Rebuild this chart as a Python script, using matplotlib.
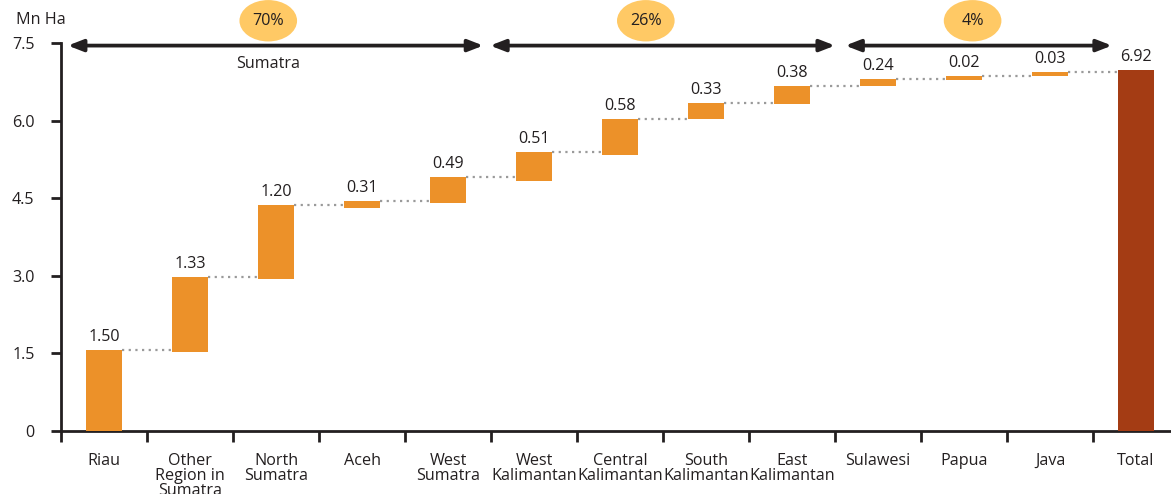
import matplotlib
matplotlib.use("Agg")
import matplotlib.pyplot as plt
from matplotlib.patches import Ellipse

plt.rcParams['font.family'] = ['Open Sans', 'DejaVu Sans']

categories = ["Riau", "Other\nRegion in\nSumatra", "North\nSumatra", "Aceh", "West\nSumatra",
              "West\nKalimantan", "Central\nKalimantan", "South\nKalimantan", "East\nKalimantan",
              "Sulawesi", "Papua", "Java", "Total"]
value_labels = [1.50, 1.33, 1.20, 0.31, 0.49, 0.51, 0.58, 0.33, 0.38, 0.24, 0.02, 0.03, 6.92]
bar_bottom = [0.00, 1.53, 2.94, 4.32, 4.41, 4.84, 5.34, 6.04, 6.33, 6.66, 6.79, 6.87, 0.00]
bar_top = [1.56, 2.97, 4.37, 4.45, 4.91, 5.39, 6.03, 6.34, 6.67, 6.80, 6.86, 6.94, 6.98]
y_ticks = [0, 1.5, 3.0, 4.5, 6.0, 7.5]
y_tick_labels = ["0", "1.5", "3.0", "4.5", "6.0", "7.5"]
group_names = ["Sumatra", "", ""]
group_shares = ["70%", "26%", "4%"]
group_arrow_start = [-0.42, 4.49, 8.62]
group_arrow_end = [4.41, 8.50, 11.72]
group_share_x = [1.91, 6.30, 10.10]

ORANGE = "#EC9129"
RUST = "#A43C14"
TXT = "#231F20"
GREY = "#9A9A9A"
FS = 11.6

fig = plt.figure(figsize=(11.71, 4.94), dpi=100)
W, H = 1171, 494
x0, x1 = 61, 61 + 86 * 13
ax = fig.add_axes([x0 / W, 1 - 431 / H, (x1 - x0) / W, (431 - 43) / H])
ax.set_xlim(-0.5, len(categories) - 0.5)
ax.set_ylim(0, 7.5)

xs = list(range(len(categories)))
heights = [t - b for t, b in zip(bar_top, bar_bottom)]
colors = [ORANGE] * (len(categories) - 1) + [RUST]
bw = 0.43
ax.bar(xs, heights, bottom=bar_bottom, width=bw, color=colors, zorder=3)

for i in xs:
    ax.text(i, bar_top[i] + 0.1, f"{value_labels[i]:.2f}", ha="center", va="bottom",
            fontsize=FS, color=TXT)
for i in range(len(categories) - 1):
    ax.plot([i + bw / 2, i + 1 - bw / 2], [bar_top[i], bar_top[i]], color=GREY,
            lw=1.6, linestyle=(0, (1, 2.0)), zorder=2)

for s in ["top", "right"]:
    ax.spines[s].set_visible(False)
for s in ["left", "bottom"]:
    ax.spines[s].set_linewidth(2.0)
    ax.spines[s].set_color(TXT)

ax.set_yticks(y_ticks)
ax.set_yticklabels(y_tick_labels)
ax.tick_params(axis="y", length=7, width=2, color=TXT, pad=12, labelsize=FS, labelcolor=TXT)
ax.set_xticks([i + 0.5 for i in range(-1, len(categories) - 1)])
ax.set_xticklabels([])
ax.set_xticks(xs, minor=True)
ax.set_xticklabels(categories, minor=True, fontsize=FS, color=TXT, linespacing=0.92, va="top")
ax.tick_params(axis="x", which="major", length=8, width=2, color=TXT, direction="out")
ax.tick_params(axis="x", which="minor", length=0, pad=16)

fig.text(16 / W, 1 - 20 / H, "Mn Ha", fontsize=FS, color=TXT, ha="left", va="center")

for name, share, xa, xb, xc in zip(group_names, group_shares, group_arrow_start,
                                   group_arrow_end, group_share_x):
    ax.annotate("", xy=(xb, 7.45), xytext=(xa, 7.45), xycoords="data",
                arrowprops=dict(arrowstyle="<|-|>,head_length=0.9,head_width=0.35",
                                color=TXT, lw=2.7, shrinkA=0, shrinkB=0), annotation_clip=False)
    e = Ellipse((xc, 7.93), 0.67, 0.8, facecolor="#FFC965", edgecolor="none", clip_on=False,
                zorder=4)
    ax.add_patch(e)
    ax.text(xc, 7.93, share, ha="center", va="center", fontsize=FS, color=TXT, zorder=5)
    if name:
        ax.text(xc, 7.1, name, ha="center", va="center", fontsize=FS, color=TXT)

fig.savefig("out.png", dpi=100)
